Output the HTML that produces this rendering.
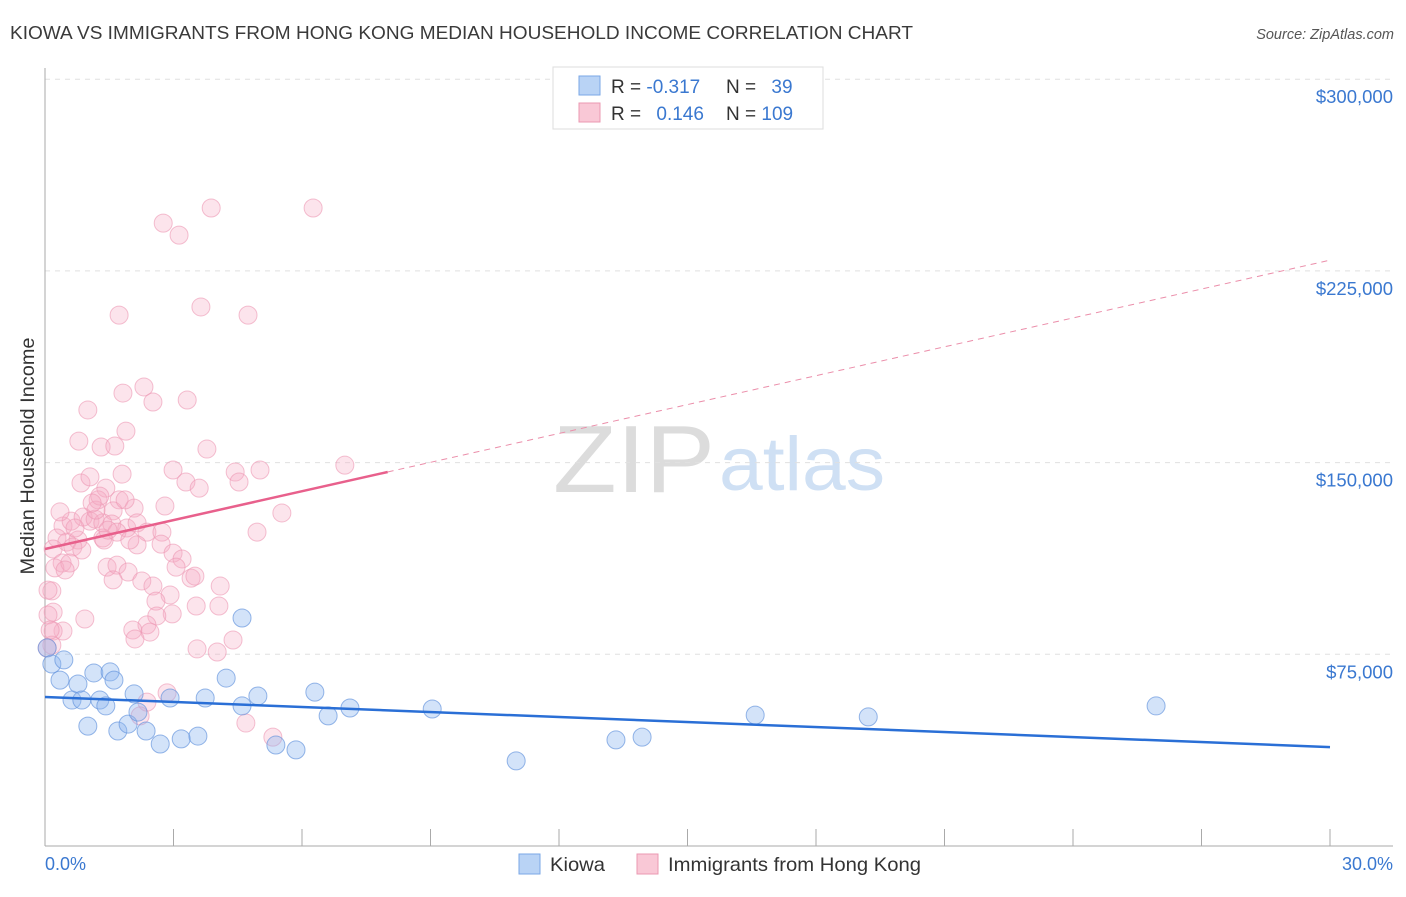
<!DOCTYPE html>
<html><head><meta charset="utf-8"><style>
body{margin:0;background:#fff;font-family:"Liberation Sans",sans-serif;}
svg text{font-family:"Liberation Sans",sans-serif;}
</style></head><body>
<svg id="chart" width="1406" height="892" xmlns="http://www.w3.org/2000/svg">
<text x="10" y="39" font-size="18" fill="#3a3a3a" textLength="903" lengthAdjust="spacingAndGlyphs">KIOWA VS IMMIGRANTS FROM HONG KONG MEDIAN HOUSEHOLD INCOME CORRELATION CHART</text>
<text x="1394" y="39" font-size="14.5" fill="#555" font-style="italic" text-anchor="end">Source: ZipAtlas.com</text>
<g>
<text x="553" y="492" font-size="96" fill="#dcdcdc" font-family="Liberation Serif,serif" textLength="162" lengthAdjust="spacingAndGlyphs">ZIP</text>
<text x="719" y="490" font-size="76" fill="#cfe0f4" textLength="166" lengthAdjust="spacingAndGlyphs">atlas</text>
</g>
<g id="grid"></g>
<g id="axes"></g>
<g id="marks"></g>
<text transform="translate(34,456) rotate(-90)" font-size="19.5" fill="#333" text-anchor="middle" textLength="237" lengthAdjust="spacingAndGlyphs">Median Household Income</text>
<g>
<rect x="553" y="67" width="270" height="62" fill="#fff" stroke="#ddd"/>
<rect x="579" y="76" width="21" height="19" fill="#b9d3f5" stroke="#7aa7e6"/>
<rect x="579" y="103" width="21" height="19" fill="#f9c8d6" stroke="#eb98b2"/>
<text x="611" y="93" font-size="19" fill="#333">R = <tspan fill="#3a78d0">-0.317</tspan></text>
<text x="726" y="93" font-size="19" fill="#333">N = <tspan fill="#3a78d0" dx="10">39</tspan></text>
<text x="611" y="120" font-size="19" fill="#333">R = <tspan fill="#3a78d0" dx="10">0.146</tspan></text>
<text x="726" y="120" font-size="19" fill="#333">N = <tspan fill="#3a78d0">109</tspan></text>
</g>
<g>
<rect x="519" y="854" width="21" height="20" fill="#b9d3f5" stroke="#7aa7e6"/>
<text x="550" y="871" font-size="19.5" fill="#333" textLength="55" lengthAdjust="spacingAndGlyphs">Kiowa</text>
<rect x="637" y="854" width="21" height="20" fill="#f9c8d6" stroke="#eb98b2"/>
<text x="668" y="871" font-size="19.5" fill="#333" textLength="253" lengthAdjust="spacingAndGlyphs">Immigrants from Hong Kong</text>
</g>
</svg>
<script>
const yTicks=[75000,150000,225000,300000];
const yTickLabels=["$75,000","$150,000","$225,000","$300,000"];
const xTickLabels=["0.0%","30.0%"];
const kiowaX=[0.05,0.16,0.35,0.44,0.63,0.77,0.86,1.0,1.14,1.28,1.42,1.52,1.61,1.70,1.94,2.08,2.17,2.36,2.69,2.92,3.18,3.57,3.74,4.23,4.60,4.60,4.97,5.39,5.86,6.30,6.61,7.12,9.04,11.0,13.33,13.94,16.58,19.22,25.94];
const kiowaY=[77.5,71.2,64.9,72.8,57.1,63.4,57.1,46.9,67.7,57.1,54.8,68.1,64.9,45.0,47.7,59.5,52.4,45.0,39.9,57.9,41.9,43.0,57.9,65.7,54.8,89.2,58.7,39.5,37.6,60.2,50.9,54.0,53.6,33.3,41.5,42.6,51.2,50.5,54.8];
const hkX=[3.88,6.26,2.76,3.13,1.73,3.64,4.74,2.31,1.82,2.52,3.32,1.00,1.89,0.79,1.31,1.63,3.78,2.99,1.80,0.84,1.05,3.29,3.60,4.44,4.53,5.02,7.00,1.42,1.24,1.73,2.08,2.80,5.53,4.95,1.59,0.42,0.61,0.89,1.05,1.17,1.35,1.56,1.91,2.15,2.38,2.73,0.28,0.51,0.77,1.35,1.68,0.19,0.65,0.86,1.38,2.15,2.71,2.99,3.20,0.40,0.23,0.58,0.16,1.45,1.68,1.94,1.59,2.26,2.52,3.06,3.41,3.50,4.09,2.92,2.59,3.53,4.06,2.97,0.19,0.93,2.61,2.38,2.45,2.05,2.10,0.42,0.19,0.16,3.55,4.02,4.39,2.85,2.38,2.22,4.69,5.32,0.07,0.07,0.35,1.87,1.19,1.28,1.98,0.12,0.05,1.10,0.47,1.47,0.70];
const hkY=[249.6,249.6,243.7,239.0,207.7,210.9,207.7,179.6,177.2,173.7,174.5,170.6,162.3,158.4,156.1,156.5,155.3,147.1,145.5,142.0,144.4,142.4,140.0,146.3,142.4,147.1,149.0,140.0,135.4,135.4,132.2,133.0,130.3,122.8,131.1,125.2,127.1,128.7,127.1,127.9,126.4,126.0,124.4,126.4,122.8,122.8,120.5,118.9,119.7,120.5,122.8,116.2,117.0,115.8,119.7,117.8,118.1,114.6,112.3,110.7,108.8,110.7,99.8,109.1,109.9,107.2,104.1,103.7,101.7,109.1,104.8,105.6,101.7,98.2,95.8,93.9,93.9,90.8,91.5,88.8,90.0,86.5,83.7,84.5,81.0,84.1,84.1,78.6,77.1,75.9,80.6,59.9,56.3,50.9,48.1,42.6,100.1,90.4,130.7,135.4,131.4,136.9,119.7,84.5,77.5,134.2,108.0,123.6,124.4];
const kiowaTrend=[58.3,38.7];
const hkTrend=[116.2,229.2];
const hkSolidEnd=8.0;

const NS="http://www.w3.org/2000/svg";
const X0=45,X1=1330,Y0=846,YPER=191.7/75000;
function sx(p){return X0+(p/30)*(X1-X0);}
function sy(v){return Y0-v*YPER;}
function mk(tag,attrs,parent){const e=document.createElementNS(NS,tag);for(const k in attrs)e.setAttribute(k,attrs[k]);parent.appendChild(e);return e;}
const grid=document.getElementById('grid'),axes=document.getElementById('axes'),marks=document.getElementById('marks');
yTicks.forEach((t,i)=>{
  const l=mk('line',{x1:45,x2:1393,y1:sy(t),y2:sy(t),stroke:'#e0e0e0','stroke-dasharray':'5,5'},grid);
  
  
  const tx=mk('text',{x:1393,y:sy(t)+24,'font-size':18.5,fill:'#3a78d0','text-anchor':'end'},axes);
  tx.textContent=yTickLabels[i];
  
  
});
const ya=mk('line',{x1:45,x2:45,y1:68,y2:846,stroke:'#aaa'},axes);


const xa=mk('line',{x1:45,x2:1393,y1:846,y2:846,stroke:'#aaa'},axes);


for(let i=0;i<=10;i++){
  const t=mk('line',{x1:sx(i*3),x2:sx(i*3),y1:829,y2:846,stroke:'#aaa'},axes);
  
  
}
const xl0=mk('text',{x:45,y:870,'font-size':18,fill:'#3a78d0'},axes);xl0.textContent=xTickLabels[0];


const xl1=mk('text',{x:1393,y:870,'font-size':18,fill:'#3a78d0','text-anchor':'end'},axes);xl1.textContent=xTickLabels[1];


hkX.forEach((x,i)=>{
  const c=mk('circle',{cx:sx(x),cy:sy(hkY[i]*1000),r:9,fill:'rgba(246,170,195,0.32)',stroke:'rgba(236,150,178,0.6)','stroke-width':1},marks);
  
  
});
kiowaX.forEach((x,i)=>{
  const c=mk('circle',{cx:sx(x),cy:sy(kiowaY[i]*1000),r:9,fill:'rgba(140,182,238,0.38)',stroke:'rgba(95,145,220,0.65)','stroke-width':1},marks);
  
  
});
const hkAt=p=>hkTrend[0]+(hkTrend[1]-hkTrend[0])*p/30;
const d1=mk('line',{x1:sx(hkSolidEnd),y1:sy(hkAt(hkSolidEnd)*1000),x2:sx(30),y2:sy(hkTrend[1]*1000),stroke:'#eb8eaa','stroke-width':1,'stroke-dasharray':'6,5'},marks);


const s1=mk('line',{x1:sx(0),y1:sy(hkTrend[0]*1000),x2:sx(hkSolidEnd),y2:sy(hkAt(hkSolidEnd)*1000),stroke:'#e8608c','stroke-width':2.5},marks);


const k1=mk('line',{x1:sx(0),y1:sy(kiowaTrend[0]*1000),x2:sx(30),y2:sy(kiowaTrend[1]*1000),stroke:'#2a6fd6','stroke-width':2.5},marks);


</script>
</body></html>
